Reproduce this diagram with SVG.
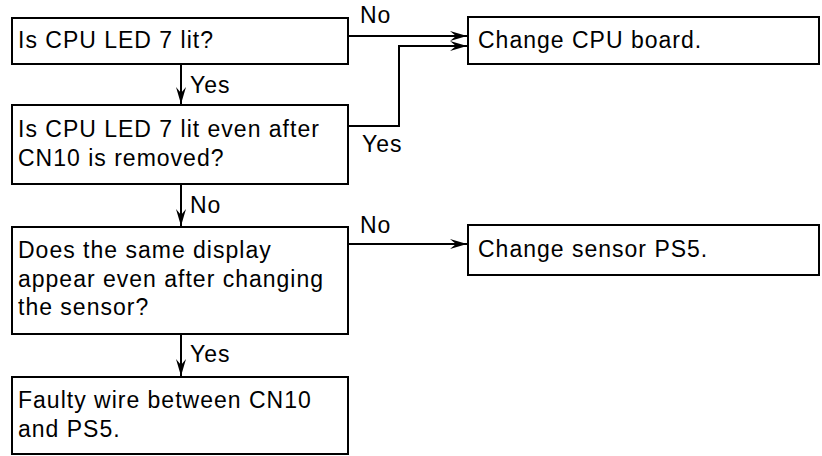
<svg xmlns="http://www.w3.org/2000/svg" width="822" height="456" viewBox="0 0 822 456">
<defs>
<style>
.box{fill:#fff;stroke:#000;stroke-width:2}
.t{font-family:"Liberation Sans",Arial,sans-serif;font-size:23px;letter-spacing:1px;fill:#000}
.c{fill:none;stroke:#000;stroke-width:2}
</style>
<marker id="ah" markerUnits="userSpaceOnUse" markerWidth="20" markerHeight="12" viewBox="-18 -6 20 12" refX="0" refY="0" orient="auto">
<path d="M0,0 L-17,-5 L-11,0 L-17,5 Z" fill="#000"/>
</marker>
</defs>
<rect width="822" height="456" fill="#fff"/>
<g id="connectors">
<path class="c" d="M181,64 V104" marker-end="url(#ah)"/>
<path class="c" d="M181,184 V226" marker-end="url(#ah)"/>
<path class="c" d="M181,334 V376" marker-end="url(#ah)"/>
<path class="c" d="M348,36 H467" marker-end="url(#ah)"/>
<path class="c" d="M348,126 H399 V46 H467" marker-end="url(#ah)"/>
<path class="c" d="M348,244 H467" marker-end="url(#ah)"/>
<text class="t" x="190" y="93">Yes</text>
<text class="t" x="190" y="213">No</text>
<text class="t" x="190" y="362">Yes</text>
<text class="t" x="360" y="23">No</text>
<text class="t" x="362" y="152">Yes</text>
<text class="t" x="360" y="233">No</text>
</g>
<g id="q1">
<rect class="box" x="12" y="18" width="336" height="46"/>
<text class="t" x="18" y="48">Is CPU LED 7 lit?</text>
</g>
<g id="q2">
<rect class="box" x="12" y="105" width="336" height="79"/>
<text class="t" x="18" y="137">Is CPU LED 7 lit even after</text>
<text class="t" x="18" y="166">CN10 is removed?</text>
</g>
<g id="q3">
<rect class="box" x="12" y="227" width="336" height="107"/>
<text class="t" x="18" y="258">Does the same display</text>
<text class="t" x="18" y="287">appear even after changing</text>
<text class="t" x="18" y="315">the sensor?</text>
</g>
<g id="r4">
<rect class="box" x="12" y="377" width="336" height="77"/>
<text class="t" x="18" y="408">Faulty wire between CN10</text>
<text class="t" x="18" y="437">and PS5.</text>
</g>
<g id="cpu">
<rect class="box" x="468" y="17" width="351" height="47"/>
<text class="t" x="478" y="48">Change CPU board.</text>
</g>
<g id="sensor">
<rect class="box" x="468" y="225" width="351" height="50"/>
<text class="t" x="478" y="257">Change sensor PS5.</text>
</g>
</svg>
